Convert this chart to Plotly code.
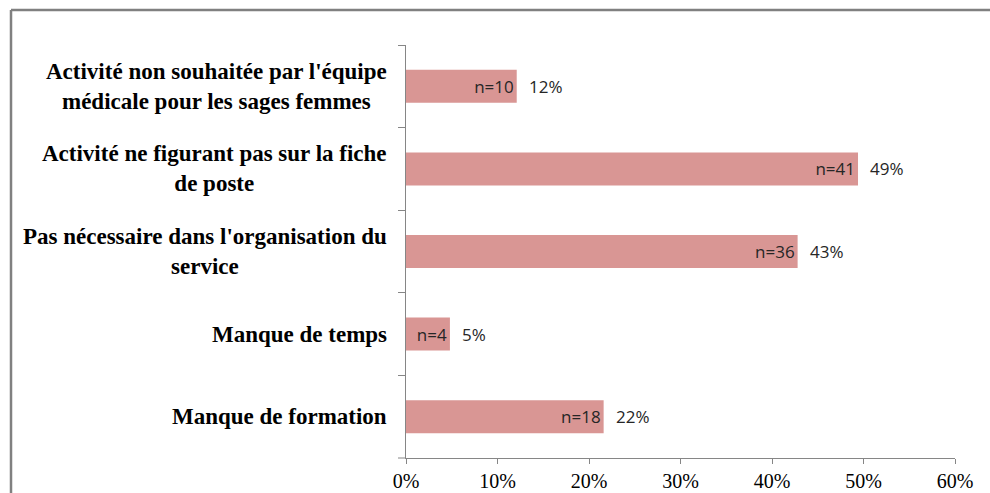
import plotly.graph_objects as go

categories = [
    "Activité non souhaitée par l'équipe<br>médicale pour les sages femmes",
    "Activité ne figurant pas sur la fiche<br>de poste",
    "Pas nécessaire dans l'organisation du<br>service",
    "Manque de temps",
    "Manque de formation",
]
counts = [10, 41, 36, 4, 18]
percents = [12.1, 49.4, 42.8, 4.8, 21.6]
inside_labels = [f"n={c}" for c in counts]
outside_labels = [f"{round(p)}%" for p in percents]

W, H = 990, 493
ML, MR, MT, MB = 406, 35, 45, 35
pw, ph = W - ML - MR, H - MT - MB

bar_color = "#D99694"
axis_color = "#868686"
label_font = dict(family="Open Sans", size=17, color="#262626")

fig = go.Figure()
fig.add_trace(go.Bar(
    y=categories, x=percents, orientation="h",
    marker=dict(color=bar_color, line=dict(width=0)),
    text=inside_labels, textposition="inside", insidetextanchor="end",
    textfont=label_font, cliponaxis=False, hoverinfo="skip",
))

annotations = []
for cat, p, lab in zip(categories, percents, outside_labels):
    annotations.append(dict(
        x=p, y=cat, xref="x", yref="y", text=lab, showarrow=False,
        xanchor="left", xshift=10, font=label_font,
    ))
    annotations.append(dict(
        x=0, y=cat, xref="paper", yref="y", text=f"<b>{cat}</b>", showarrow=False,
        xanchor="right", xshift=-17, align="center",
        font=dict(family="Liberation Serif", size=23, color="#000000"),
    ))

# outer frame (top and left border lines)
fx = (11 - ML) / pw
fy_top = 1 + (MT - 10) / ph
fy_bot = -MB / ph - 0.01
shapes = [
    dict(type="line", xref="paper", yref="paper", x0=fx, x1=(W - ML) / pw + 0.01,
         y0=fy_top, y1=fy_top, line=dict(color="#808080", width=2.5)),
    dict(type="line", xref="paper", yref="paper", x0=fx, x1=fx,
         y0=fy_top, y1=fy_bot, line=dict(color="#808080", width=2.5)),
    dict(type="line", xref="paper", yref="paper", x0=-8 / pw, x1=0,
         y0=0, y1=0, line=dict(color=axis_color, width=1)),
]

fig.update_layout(
    width=W, height=H,
    margin=dict(l=ML, r=MR, t=MT, b=MB, autoexpand=False),
    paper_bgcolor="white", plot_bgcolor="white",
    showlegend=False, bargap=0.6,
    annotations=annotations, shapes=shapes,
    xaxis=dict(range=[0, 60], dtick=10, ticksuffix="%", showgrid=False,
               automargin=False,
               zeroline=False, showline=True, linecolor=axis_color, linewidth=1,
               ticks="outside", ticklen=5, tickcolor=axis_color,
               tickfont=dict(family="Liberation Serif", size=20, color="#000000")),
    yaxis=dict(autorange="reversed", showticklabels=False, showgrid=False,
               automargin=False,
               showline=True, linecolor=axis_color, linewidth=1,
               ticks="outside", ticklen=7, tickcolor=axis_color,
               tickson="boundaries", zeroline=False),
)

fig.write_html("out.html", config={"displayModeBar": False},
               post_script="document.body.style.margin='0';document.body.style.overflow='hidden';")
